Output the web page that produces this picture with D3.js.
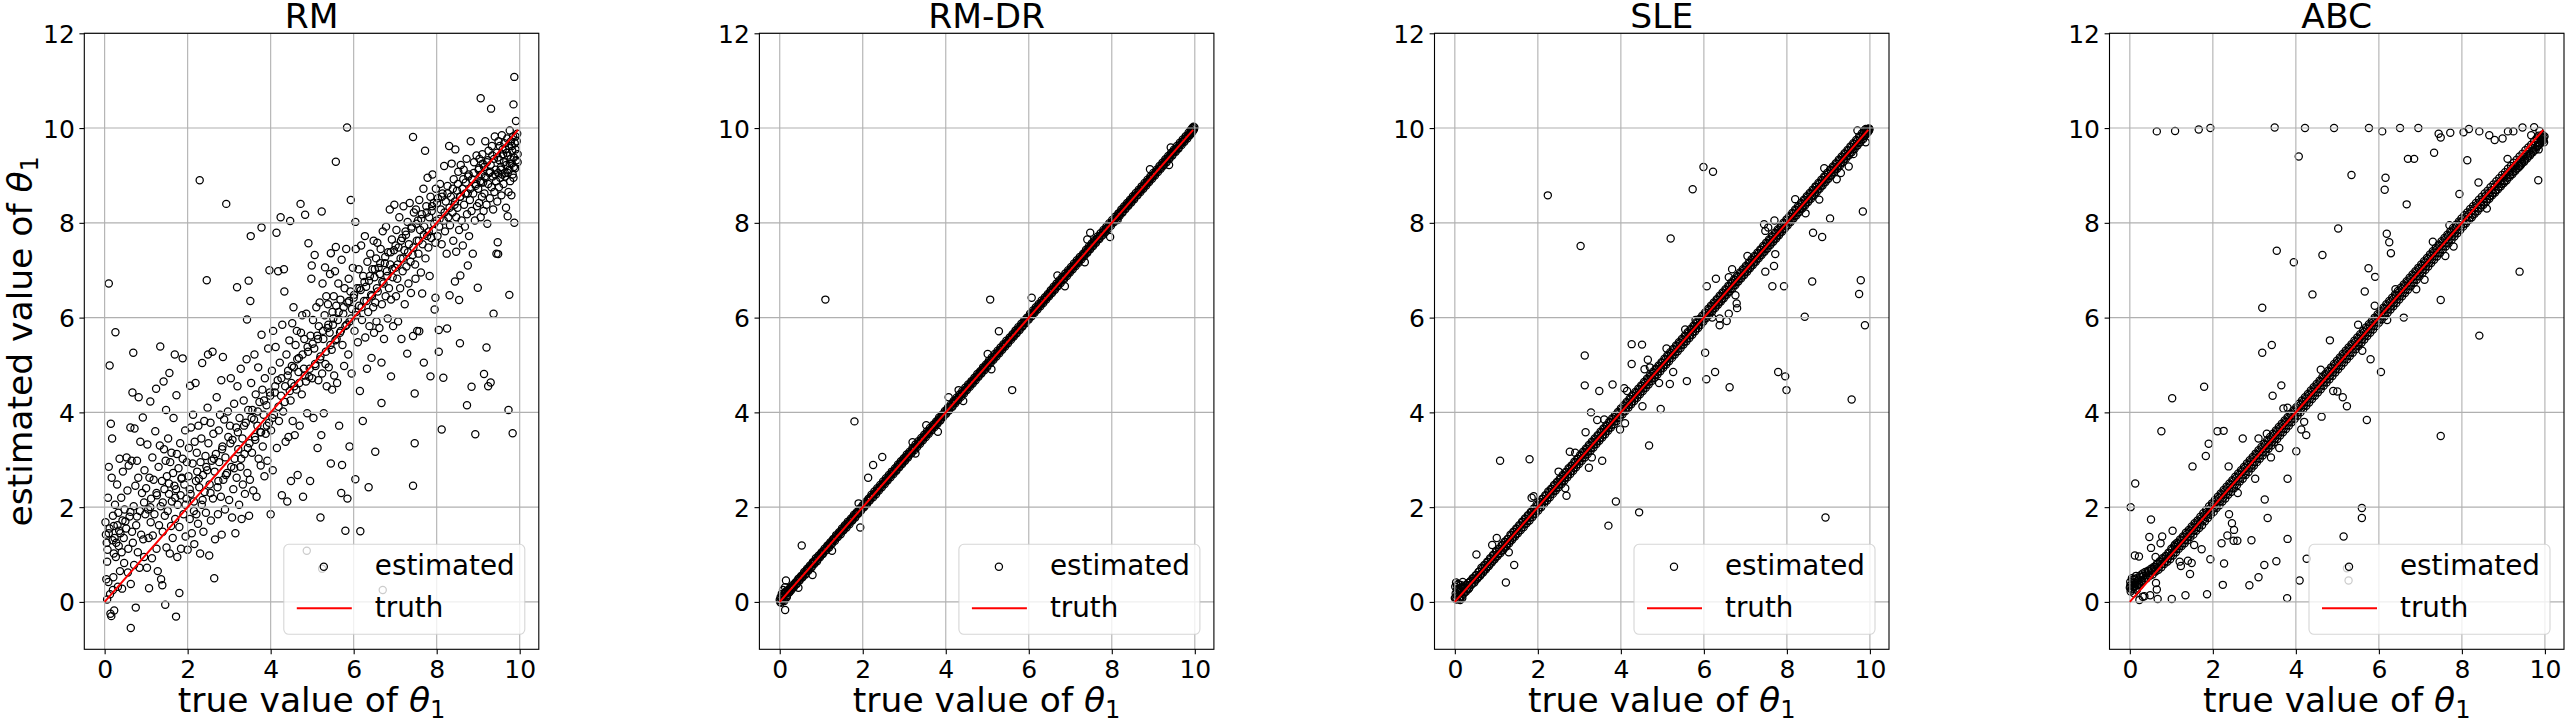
<!DOCTYPE html>
<html>
<head>
<meta charset="utf-8">
<script src="https://cdn.jsdelivr.net/npm/d3@7.9.0/dist/d3.min.js"></script>
<style>
  html, body { margin: 0; padding: 0; background: #fff; }
  svg { display: block; font-family: "DejaVu Sans", sans-serif; }
</style>
</head>
<body>
<div id="chart"></div>
<script>
const panelTitles = ['RM', 'RM-DR', 'SLE', 'ABC'];
const xTicks = [0, 2, 4, 6, 8, 10];
const yTicks = [0, 2, 4, 6, 8, 10, 12];
const legendLabels = ['estimated', 'truth'];
const truthLine = [0.0, 9.96];

// RM: [true, estimated]
const rmPoints = [
[0.02,1.68],[0.03,1.42],[0.05,1.25],[0.04,0.48],[0.06,0.85],[0.08,2.2],[0.1,2.85],[0.12,1.55],[0.07,1.1],[0.1,6.72],[0.12,4.99],[0.13,0.16],[0.14,-0.25],[0.15,3.76],[0.18,3.45],[0.17,2.62],[0.19,1.3],[0.2,1.82],[0.21,0.52],[0.22,1.02],[0.23,-0.18],[0.24,1.35],[0.25,2.05],[0.26,5.69],[0.27,0.95],[0.28,1.25],[0.3,2.48],[0.31,1.62],[0.32,0.32],[0.33,1.88],[0.34,1.18],[0.36,3.02],[0.37,0.65],[0.38,1.45],[0.4,2.2],[0.41,1.05],[0.42,0.28],[0.43,1.72],[0.44,2.75],[0.46,1.35],[0.47,0.82],[0.48,1.95],[0.06,0.05],[0.09,0.42],[0.16,-0.3],[0.2,0.25],
[0.52,1.55],[0.53,3.05],[0.55,2.35],[0.56,0.62],[0.57,1.12],[0.58,2.88],[0.6,1.8],[0.62,3.68],[0.63,-0.55],[0.63,0.38],[0.65,2.98],[0.66,1.48],[0.67,4.42],[0.68,1.25],[0.69,5.26],[0.7,2.02],[0.71,0.78],[0.72,3.66],[0.74,2.45],[0.75,-0.12],[0.76,1.62],[0.78,2.98],[0.8,1.05],[0.81,2.62],[0.82,4.32],[0.84,0.72],[0.85,1.92],[0.86,3.38],[0.88,1.42],[0.9,2.3],[0.92,3.89],[0.93,1.32],[0.95,0.95],[0.96,2.78],[0.98,1.85],
[1.0,2.4],[1.02,0.72],[1.03,3.32],[1.05,1.95],[1.06,1.35],[1.07,0.29],[1.08,2.62],[1.1,4.23],[1.11,1.68],[1.12,2.18],[1.14,0.92],[1.15,3.05],[1.16,1.4],[1.18,2.58],[1.2,1.85],[1.22,3.6],[1.24,4.5],[1.25,1.12],[1.26,2.25],[1.28,0.65],[1.3,2.85],[1.31,1.62],[1.33,3.3],[1.34,5.39],[1.35,2.02],[1.36,0.48],[1.38,2.55],[1.39,0.35],[1.4,1.48],[1.42,4.65],[1.43,3.22],[1.44,2.38],[1.45,1.82],[1.46,-0.06],[1.47,2.98],[1.48,4.05],[1.49,1.15],
[1.5,2.65],[1.52,1.92],[1.53,3.45],[1.55,2.28],[1.56,4.83],[1.57,1.02],[1.58,2.95],[1.6,1.6],[1.61,3.15],[1.62,2.12],[1.64,1.35],[1.65,2.72],[1.66,3.88],[1.68,2.45],[1.69,5.22],[1.7,1.75],[1.72,-0.31],[1.72,2.38],[1.73,4.36],[1.74,3.12],[1.75,0.95],[1.76,2.05],[1.78,2.82],[1.8,0.19],[1.8,1.58],[1.82,3.35],[1.83,2.25],[1.84,1.12],[1.86,2.62],[1.88,5.14],[1.88,3.02],[1.9,1.85],[1.92,2.48],[1.94,3.62],[1.95,1.38],[1.97,2.18],[1.98,2.95],
[2.0,1.1],[2.02,2.65],[2.03,3.25],[2.05,1.75],[2.06,4.56],[2.07,2.28],[2.08,3.68],[2.1,1.45],[2.12,2.92],[2.13,3.95],[2.15,2.12],[2.16,1.22],[2.17,3.38],[2.19,4.62],[2.2,2.55],[2.21,1.85],[2.22,3.15],[2.23,2.75],[2.25,1.65],[2.26,3.72],[2.28,2.42],[2.29,8.9],[2.3,1.02],[2.31,2.95],[2.33,3.45],[2.34,2.05],[2.35,5.04],[2.37,2.68],[2.38,1.48],[2.4,3.82],[2.41,2.32],[2.43,3.08],[2.44,1.88],[2.46,6.79],[2.47,2.78],[2.48,4.1],[2.49,5.22],
[2.5,3.35],[2.52,0.98],[2.53,2.48],[2.55,3.78],[2.56,1.72],[2.58,2.98],[2.6,5.28],[2.61,2.18],[2.62,3.55],[2.64,0.5],[2.65,2.75],[2.66,1.32],[2.68,3.12],[2.7,4.32],[2.72,2.42],[2.73,1.85],[2.75,3.62],[2.76,2.95],[2.78,3.95],[2.8,2.22],[2.81,4.68],[2.82,1.42],[2.84,3.28],[2.85,5.17],[2.86,2.58],[2.88,3.85],[2.9,1.95],[2.91,3.05],[2.93,8.4],[2.95,2.72],[2.97,4.02],[2.98,3.48],
[3.0,2.15],[3.02,3.72],[3.04,4.72],[3.05,2.85],[3.07,1.78],[3.08,3.42],[3.1,2.38],[3.12,4.18],[3.13,3.02],[3.15,1.45],[3.17,3.68],[3.18,2.62],[3.19,6.64],[3.2,4.55],[3.22,3.22],[3.24,2.05],[3.25,3.88],[3.27,2.85],[3.28,4.92],[3.3,1.75],[3.32,3.45],[3.33,2.48],[3.35,4.25],[3.37,3.12],[3.38,2.28],[3.4,3.78],[3.42,5.12],[3.43,5.96],[3.44,2.72],[3.46,4.05],[3.47,6.78],[3.48,1.82],[3.49,3.35],
[3.5,2.58],[3.51,6.35],[3.52,7.72],[3.53,4.62],[3.55,3.15],[3.56,4.05],[3.58,2.35],[3.6,3.85],[3.61,5.22],[3.63,3.42],[3.64,4.38],[3.66,2.22],[3.68,3.72],[3.7,4.95],[3.71,3.02],[3.73,4.22],[3.75,3.58],[3.76,2.88],[3.78,5.64],[3.78,7.9],[3.8,4.48],[3.81,3.28],[3.83,3.95],[3.85,2.65],[3.86,4.72],[3.88,3.55],[3.9,4.15],[3.92,2.98],[3.94,5.35],[3.96,3.78],[3.97,7.0],[3.98,4.42],
[4.0,1.85],[4.01,3.62],[4.03,4.88],[4.05,2.78],[4.06,5.72],[4.08,3.95],[4.1,4.42],[4.12,5.38],[4.14,7.79],[4.15,3.25],[4.17,4.68],[4.18,6.98],[4.2,3.82],[4.22,5.05],[4.24,8.12],[4.25,4.35],[4.27,2.25],[4.28,5.85],[4.3,4.02],[4.32,7.02],[4.33,6.55],[4.35,4.55],[4.36,3.38],[4.38,5.22],[4.4,2.12],[4.41,4.78],[4.43,3.48],[4.45,5.52],[4.47,8.04],[4.48,4.25],[4.49,2.55],
[4.5,4.62],[4.52,5.88],[4.53,3.82],[4.55,6.22],[4.56,4.95],[4.58,3.52],[4.6,5.42],[4.62,4.48],[4.63,5.72],[4.65,2.68],[4.67,4.85],[4.68,5.15],[4.7,3.72],[4.72,8.4],[4.73,5.68],[4.75,4.38],[4.76,6.05],[4.78,2.22],[4.8,4.92],[4.81,5.55],[4.83,8.17],[4.85,4.65],[4.86,6.08],[4.88,3.98],[4.9,5.28],[4.91,7.57],[4.93,4.75],[4.95,2.55],[4.96,5.62],[4.98,6.82],[4.99,7.1],
[5.0,4.72],[5.02,5.95],[5.03,3.88],[5.05,5.35],[5.06,7.32],[5.08,4.98],[5.1,6.22],[5.12,5.62],[5.13,3.25],[5.15,4.68],[5.16,5.82],[5.18,6.32],[5.2,1.78],[5.2,5.18],[5.22,3.52],[5.23,8.24],[5.24,4.82],[5.25,6.72],[5.27,5.55],[5.28,3.98],[5.3,6.05],[5.31,7.06],[5.32,5.02],[5.34,6.45],[5.35,4.55],[5.37,5.78],[5.38,6.28],[5.4,4.95],[5.42,5.68],[5.43,6.92],[5.45,2.92],[5.45,7.36],[5.47,5.32],[5.48,4.48],[5.49,6.12],
[5.5,5.85],[5.52,6.45],[5.53,4.78],[5.55,6.98],[5.56,5.52],[5.57,9.29],[5.57,7.49],[5.58,6.25],[5.6,4.62],[5.62,5.95],[5.63,6.72],[5.65,3.72],[5.67,5.68],[5.68,6.38],[5.7,2.3],[5.71,7.22],[5.72,2.89],[5.73,5.42],[5.75,6.08],[5.77,4.98],[5.78,6.62],[5.8,1.5],[5.8,5.82],[5.82,7.45],[5.84,10.01],[5.85,2.18],[5.85,6.32],[5.87,5.22],[5.88,6.82],[5.9,3.28],[5.9,5.92],[5.92,6.55],[5.93,8.48],[5.95,4.82],[5.96,6.18],[5.98,7.05],
[6.0,6.42],[6.02,5.72],[6.04,8.02],[6.04,2.59],[6.05,7.45],[6.07,6.05],[6.08,6.62],[6.1,5.48],[6.12,7.02],[6.13,6.25],[6.15,4.45],[6.16,1.49],[6.17,6.58],[6.18,7.52],[6.2,5.95],[6.22,3.82],[6.23,6.88],[6.25,6.35],[6.27,7.72],[6.28,5.58],[6.3,6.65],[6.32,4.92],[6.33,7.18],[6.35,6.12],[6.36,2.42],[6.37,6.78],[6.38,5.82],[6.4,7.35],[6.42,6.48],[6.43,5.15],[6.45,7.02],[6.47,6.22],[6.48,7.62],[6.49,5.68],
[6.5,6.85],[6.52,3.17],[6.52,6.32],[6.54,7.25],[6.55,5.92],[6.57,7.58],[6.58,6.55],[6.6,7.05],[6.62,5.78],[6.63,6.92],[6.65,7.45],[6.67,4.2],[6.67,5.05],[6.68,6.28],[6.7,7.82],[6.72,6.72],[6.73,5.55],[6.75,7.15],[6.77,6.45],[6.78,7.92],[6.8,6.98],[6.82,5.98],[6.83,7.38],[6.85,6.62],[6.87,8.28],[6.88,7.12],[6.9,4.76],[6.9,6.38],[6.92,7.65],[6.94,6.85],[6.95,5.82],[6.97,7.42],[6.98,8.38],
[7.0,7.05],[7.02,6.45],[7.03,7.85],[7.05,6.82],[7.07,5.92],[7.08,7.48],[7.1,8.12],[7.12,6.62],[7.13,7.25],[7.15,5.55],[7.17,7.68],[7.18,6.98],[7.2,8.35],[7.22,7.42],[7.23,6.28],[7.25,7.82],[7.27,7.08],[7.29,5.24],[7.3,8.02],[7.32,6.72],[7.33,7.55],[7.35,8.42],[7.37,7.18],[7.38,6.52],[7.4,7.92],[7.42,7.32],[7.43,9.81],[7.43,5.61],[7.43,2.45],[7.45,8.22],[7.47,3.35],[7.47,4.4],[7.48,7.12],[7.49,6.82],
[7.5,8.28],[7.52,7.62],[7.53,5.72],[7.55,8.05],[7.56,7.35],[7.58,5.71],[7.58,8.48],[7.6,7.85],[7.62,6.95],[7.64,8.18],[7.65,6.51],[7.66,7.55],[7.68,8.72],[7.69,5.05],[7.7,7.92],[7.72,9.52],[7.73,7.25],[7.75,8.35],[7.77,7.72],[7.78,8.95],[7.8,7.48],[7.82,8.12],[7.83,6.88],[7.85,4.76],[7.85,8.55],[7.87,7.68],[7.88,8.25],[7.9,9.02],[7.92,7.85],[7.93,8.42],[7.95,6.17],[7.97,6.42],[7.97,7.58],[7.98,8.72],
[8.0,8.05],[8.02,7.72],[8.03,8.52],[8.05,5.28],[8.05,5.74],[8.06,7.92],[8.08,8.82],[8.1,8.28],[8.12,3.64],[8.12,7.55],[8.14,8.62],[8.16,4.73],[8.17,8.05],[8.18,9.2],[8.2,7.82],[8.22,8.45],[8.24,7.35],[8.25,5.77],[8.26,8.78],[8.28,8.12],[8.3,9.62],[8.31,6.47],[8.32,7.95],[8.34,8.55],[8.36,9.25],[8.38,8.22],[8.4,7.62],[8.41,8.92],[8.43,8.38],[8.44,6.76],[8.45,9.55],[8.47,7.39],[8.47,8.12],[8.49,8.68],
[8.5,8.32],[8.52,9.08],[8.54,6.37],[8.54,7.85],[8.56,5.46],[8.56,8.55],[8.57,6.89],[8.58,9.22],[8.6,8.05],[8.62,8.72],[8.63,7.52],[8.65,9.12],[8.66,8.38],[8.68,7.92],[8.7,8.85],[8.72,9.35],[8.73,4.15],[8.73,8.18],[8.75,7.1],[8.75,8.62],[8.77,9.02],[8.78,7.72],[8.8,8.48],[8.82,9.72],[8.84,4.54],[8.84,8.25],[8.85,8.92],[8.87,7.35],[8.88,8.62],[8.9,9.28],[8.92,8.05],[8.93,3.54],[8.94,8.82],[8.96,9.42],[8.97,8.35],[8.99,6.63],
[9.0,8.72],[9.01,9.12],[9.02,8.42],[9.03,9.35],[9.05,8.88],[9.06,10.63],[9.06,8.12],[9.08,9.02],[9.09,8.55],[9.1,9.45],[9.12,8.85],[9.13,8.25],[9.14,4.81],[9.14,9.18],[9.15,8.62],[9.17,9.72],[9.18,8.95],[9.2,5.37],[9.2,8.38],[9.21,9.28],[9.22,7.98],[9.24,4.55],[9.24,8.82],[9.25,9.52],[9.27,9.05],[9.28,8.52],[9.3,4.63],[9.3,9.22],[9.31,10.41],[9.32,8.75],[9.33,9.62],[9.35,8.98],[9.36,8.28],[9.37,6.08],[9.38,9.35],[9.39,8.65],[9.4,9.82],[9.42,9.12],[9.43,8.88],[9.44,7.35],[9.45,9.48],[9.46,8.45],[9.47,7.59],[9.48,7.34],[9.48,9.05],[9.49,9.72],
[9.5,8.75],[9.51,9.32],[9.52,9.62],[9.53,8.95],[9.55,9.18],[9.56,8.58],[9.57,9.85],[9.58,9.02],[9.6,9.45],[9.61,8.82],[9.62,9.28],[9.63,9.68],[9.65,8.98],[9.66,9.55],[9.67,8.32],[9.68,9.22],[9.7,9.78],[9.71,8.14],[9.71,9.05],[9.72,9.42],[9.73,4.05],[9.73,8.65],[9.74,9.62],[9.75,6.48],[9.75,9.12],[9.76,9.95],[9.77,8.88],[9.78,9.35],[9.79,9.72],[9.8,8.58],[9.81,9.25],[9.82,9.52],[9.83,3.56],[9.83,9.02],[9.84,9.82],[9.85,10.5],[9.85,8.95],[9.86,9.38],[9.87,11.08],[9.87,8.0],[9.88,9.68],[9.89,9.15],[9.9,9.55],[9.91,10.15],[9.92,9.32],[9.93,9.72],[9.94,9.88],[9.95,9.45],
[4.87,1.08],[5.24,0.7],[6.7,0.25]
];
// RM: the denser core close to the truth
const rmCore = [
[0.1,1.45],[0.22,1.6],[0.35,1.5],[0.5,1.7],[0.62,1.9],[0.78,1.8],[0.95,2.1],[1.1,2.0],[1.25,2.3],[1.4,2.1],[1.55,2.5],[1.7,2.2],[1.85,2.6],[1.95,2.05],
[2.05,2.38],[2.15,1.92],[2.27,2.6],[2.36,2.15],[2.45,2.85],[2.55,2.3],[2.63,3.02],[2.74,2.55],[2.83,3.22],[2.92,2.68],[3.03,3.35],[3.12,2.82],[3.21,3.58],[3.29,3.02],[3.36,3.72],[3.45,3.25],[3.54,3.88],[3.62,3.48],[3.69,4.02],[3.77,3.58],[3.84,4.25],[3.91,3.72],[3.99,4.35],[4.04,3.88],[4.11,4.55],[4.19,4.12],[4.26,4.72],[4.34,4.22],[4.42,4.88],[4.46,4.45],[4.51,4.98],[4.57,4.55],[4.64,5.12],[4.69,4.62],[4.77,5.22],[4.82,4.78],[4.89,5.38],[4.94,4.92],[5.01,5.45],[5.07,5.02],[5.14,5.55],[5.19,5.12],[5.26,5.72],[5.33,5.28],[5.39,5.85],[5.44,5.42],[5.51,5.98],[5.59,5.55],[5.64,6.12],[5.69,5.72],[5.76,6.22],[5.83,5.85],[5.89,6.35],[5.94,5.98],[6.01,6.48],[6.06,6.12],[6.14,6.62],[6.19,6.22],[6.26,6.75],[6.31,6.35],[6.39,6.88],[6.44,6.45],[6.51,7.02],[6.56,6.62],[6.64,7.15],[6.69,6.75],[6.76,7.28],[6.81,6.88],[6.89,7.38],[6.93,7.02],[7.01,7.52],[7.06,7.12],[7.14,7.62],[7.19,7.25],[7.26,7.75],[7.31,7.38],[7.39,7.88],[7.44,7.48],[7.51,7.98],[7.57,7.62],[7.63,8.08],[7.69,7.75],[7.76,8.22],[7.81,7.82],[7.89,8.35],[7.94,7.98],[8.01,8.42],[8.07,8.08],[8.13,8.55],[8.19,8.22],[8.26,8.62],[8.31,8.32],[8.39,8.72],[8.44,8.45],[8.51,8.82],[8.57,8.55],[8.64,8.92],[8.69,8.62],[8.76,8.98],[8.81,8.72],[8.89,9.05],[8.94,8.78],[9.02,9.15],[9.07,8.85],[9.11,9.25],[9.16,8.98],[9.23,9.32],[9.29,9.08],[9.34,9.42],[9.41,9.02],[9.47,9.38],[9.54,9.12],[9.59,9.55],[9.64,9.05],[9.69,9.48],[9.76,9.25],[9.81,9.62],[9.86,9.18],[9.9,9.82],[9.95,9.28]
];

// RM-DR: points along the diagonal band, then the stray estimates
const rmdrBand = [
[0.0,0.04],[0.02,0.1],[0.03,-0.02],[0.05,0.17],[0.06,0.03],[0.08,0.25],[0.1,0.12],[0.11,0.02],[0.13,0.31],[0.15,0.19],[0.17,0.1],[0.19,0.24],[0.22,0.2],[0.25,0.3],[0.28,0.25],[0.31,0.35],[0.34,0.31],[0.38,0.41],[0.41,0.38],[0.45,0.49],
[0.48,0.45],[0.52,0.55],[0.55,0.52],[0.59,0.63],[0.62,0.58],[0.66,0.7],[0.69,0.66],[0.73,0.77],[0.77,0.73],[0.8,0.84],[0.83,0.8],[0.87,0.92],[0.9,0.86],[0.94,0.98],[0.97,0.94],
[1.01,1.05],[1.04,1.01],[1.08,1.12],[1.12,1.09],[1.15,1.19],[1.19,1.15],[1.22,1.26],[1.26,1.23],[1.29,1.33],[1.33,1.29],[1.36,1.41],[1.4,1.37],[1.43,1.47],[1.47,1.43],
[1.5,1.55],[1.54,1.51],[1.57,1.62],[1.61,1.57],[1.64,1.69],[1.68,1.64],[1.72,1.76],[1.75,1.72],[1.79,1.84],[1.82,1.78],[1.86,1.9],[1.89,1.86],[1.93,1.97],[1.96,1.93],
[2.0,2.04],[2.03,2.0],[2.07,2.11],[2.1,2.06],[2.14,2.18],[2.17,2.14],[2.21,2.26],[2.25,2.21],[2.28,2.33],[2.32,2.27],[2.35,2.4],[2.39,2.35],[2.42,2.47],[2.46,2.42],
[2.49,2.54],[2.53,2.49],[2.56,2.61],[2.6,2.56],[2.63,2.68],[2.67,2.63],[2.7,2.75],[2.74,2.7],[2.78,2.82],[2.81,2.77],[2.85,2.9],[2.88,2.84],[2.92,2.97],[2.95,2.91],[2.99,3.03],
[3.02,2.98],[3.06,3.11],[3.09,3.05],[3.13,3.17],[3.17,3.13],[3.2,3.25],[3.24,3.2],[3.27,3.32],[3.31,3.27],[3.34,3.39],[3.38,3.34],[3.41,3.46],[3.45,3.41],[3.48,3.53],
[3.52,3.48],[3.55,3.6],[3.59,3.55],[3.62,3.67],[3.66,3.62],[3.7,3.74],[3.73,3.69],[3.77,3.81],[3.8,3.76],[3.84,3.89],[3.87,3.83],[3.91,3.95],[3.94,3.9],[3.98,4.03],
[4.01,3.97],[4.05,4.1],[4.08,4.04],[4.12,4.16],[4.16,4.12],[4.19,4.24],[4.23,4.19],[4.26,4.31],[4.3,4.26],[4.33,4.38],[4.37,4.33],[4.4,4.45],[4.44,4.4],[4.47,4.52],
[4.51,4.47],[4.54,4.59],[4.58,4.54],[4.62,4.66],[4.65,4.61],[4.69,4.73],[4.72,4.68],[4.76,4.81],[4.79,4.75],[4.83,4.87],[4.86,4.82],[4.9,4.95],[4.93,4.89],[4.97,5.01],
[5.0,4.96],[5.04,5.09],[5.08,5.04],[5.11,5.16],[5.15,5.11],[5.18,5.23],[5.22,5.18],[5.25,5.3],[5.29,5.25],[5.32,5.37],[5.36,5.32],[5.39,5.44],[5.43,5.39],[5.46,5.51],
[5.5,5.46],[5.54,5.58],[5.57,5.53],[5.61,5.65],[5.64,5.6],[5.68,5.73],[5.71,5.67],[5.75,5.8],[5.78,5.74],[5.82,5.87],[5.85,5.81],[5.89,5.94],[5.92,5.88],[5.96,6.0],
[6.0,5.96],[6.03,6.08],[6.07,6.03],[6.1,6.15],[6.14,6.1],[6.17,6.22],[6.21,6.17],[6.24,6.29],[6.28,6.24],[6.31,6.36],[6.35,6.31],[6.39,6.43],[6.42,6.38],[6.46,6.5],
[6.49,6.45],[6.53,6.58],[6.56,6.52],[6.6,6.65],[6.63,6.59],[6.67,6.72],[6.7,6.66],[6.74,6.79],[6.77,6.73],[6.81,6.86],[6.85,6.81],[6.88,6.93],[6.92,6.88],[6.95,7.0],[6.99,6.95],
[7.02,7.07],[7.06,7.02],[7.09,7.14],[7.13,7.09],[7.16,7.21],[7.2,7.16],[7.23,7.28],[7.27,7.23],[7.31,7.35],[7.34,7.3],[7.38,7.43],[7.41,7.37],[7.45,7.5],[7.48,7.44],
[7.52,7.57],[7.55,7.51],[7.59,7.64],[7.62,7.58],[7.66,7.71],[7.7,7.66],[7.73,7.78],[7.77,7.73],[7.8,7.85],[7.84,7.8],[7.87,7.92],[7.91,7.87],[7.94,7.99],[7.98,7.94],
[8.01,8.06],[8.05,8.01],[8.08,8.13],[8.12,8.08],[8.16,8.2],[8.19,8.15],[8.23,8.28],[8.26,8.22],[8.3,8.35],[8.33,8.29],[8.37,8.42],[8.4,8.36],[8.44,8.49],[8.47,8.43],
[8.51,8.56],[8.54,8.5],[8.58,8.63],[8.62,8.58],[8.65,8.7],[8.69,8.65],[8.72,8.77],[8.76,8.72],[8.79,8.84],[8.83,8.79],[8.86,8.91],[8.9,8.86],[8.93,8.98],[8.97,8.93],
[9.0,9.05],[9.04,9.0],[9.08,9.12],[9.11,9.07],[9.15,9.2],[9.18,9.14],[9.22,9.27],[9.25,9.21],[9.29,9.34],[9.32,9.28],[9.36,9.41],[9.39,9.35],[9.43,9.48],[9.46,9.42],
[9.5,9.55],[9.54,9.5],[9.57,9.62],[9.61,9.57],[9.64,9.69],[9.68,9.64],[9.71,9.76],[9.75,9.71],[9.78,9.83],[9.82,9.78],[9.85,9.9],[9.88,9.85],[9.9,9.96],[9.92,9.89],[9.94,10.0],[9.95,9.93],[9.97,10.03],[9.98,9.97]
];
const rmdrBand2 = [
[0.01,0.0],[0.04,0.07],[0.07,0.12],[0.09,0.04],[0.12,0.19],[0.14,0.08],[0.16,0.23],[0.18,0.14],[0.21,0.23],[0.24,0.21],[0.27,0.29],[0.3,0.31],[0.33,0.32],[0.36,0.38],[0.4,0.39],[0.43,0.45],[0.47,0.46],[0.5,0.52],[0.54,0.53],[0.57,0.59],[0.61,0.6],[0.64,0.66],[0.68,0.67],[0.71,0.73],[0.75,0.74],[0.79,0.81],[0.82,0.81],[0.85,0.87],[0.89,0.88],[0.92,0.94],[0.96,0.96],[0.99,1.01],
[1.03,1.02],[1.06,1.08],[1.1,1.09],[1.14,1.16],[1.17,1.16],[1.21,1.23],[1.24,1.23],[1.28,1.3],[1.31,1.31],[1.35,1.37],[1.38,1.38],[1.42,1.44],[1.45,1.45],[1.49,1.51],[1.52,1.52],[1.56,1.58],[1.59,1.59],[1.63,1.65],[1.66,1.66],[1.7,1.72],[1.74,1.73],[1.77,1.79],[1.81,1.8],[1.84,1.86],[1.88,1.87],[1.91,1.93],[1.95,1.94],[1.98,2.0],
[2.02,2.01],[2.05,2.07],[2.09,2.08],[2.12,2.14],[2.16,2.15],[2.19,2.21],[2.23,2.23],[2.27,2.28],[2.3,2.3],[2.34,2.35],[2.37,2.37],[2.41,2.42],[2.44,2.44],[2.48,2.49],[2.51,2.51],[2.55,2.56],[2.58,2.58],[2.62,2.63],[2.65,2.65],[2.69,2.7],[2.72,2.72],[2.76,2.77],[2.8,2.79],[2.83,2.85],[2.87,2.86],[2.9,2.92],[2.94,2.93],[2.97,2.99],
[3.01,3.0],[3.04,3.06],[3.08,3.07],[3.11,3.13],[3.15,3.14],[3.19,3.2],[3.22,3.22],[3.26,3.27],[3.29,3.29],[3.33,3.34],[3.36,3.36],[3.4,3.41],[3.43,3.43],[3.47,3.48],[3.5,3.5],[3.54,3.55],[3.57,3.57],[3.61,3.62],[3.64,3.64],[3.68,3.69],[3.71,3.71],[3.75,3.76],[3.79,3.78],[3.82,3.84],[3.86,3.85],[3.89,3.91],[3.93,3.92],[3.96,3.98],
[4.0,3.99],[4.03,4.05],[4.07,4.06],[4.1,4.12],[4.14,4.13],[4.18,4.19],[4.21,4.21],[4.25,4.26],[4.28,4.28],[4.32,4.33],[4.35,4.35],[4.39,4.4],[4.42,4.42],[4.46,4.47],[4.49,4.49],[4.53,4.54],[4.56,4.56],[4.6,4.61],[4.63,4.63],[4.67,4.68],[4.7,4.7],[4.74,4.75],[4.78,4.77],[4.81,4.83],[4.85,4.84],[4.88,4.9],[4.92,4.91],[4.95,4.97],[4.99,4.98],
[5.02,5.04],[5.06,5.05],[5.1,5.11],[5.13,5.13],[5.17,5.18],[5.2,5.2],[5.24,5.25],[5.27,5.27],[5.31,5.32],[5.34,5.34],[5.38,5.39],[5.41,5.41],[5.45,5.46],[5.48,5.48],[5.52,5.53],[5.55,5.55],[5.59,5.6],[5.63,5.62],[5.66,5.68],[5.7,5.69],[5.73,5.75],[5.77,5.76],[5.8,5.82],[5.84,5.83],[5.87,5.89],[5.91,5.9],[5.94,5.96],[5.98,5.97],
[6.02,6.03],[6.05,6.05],[6.09,6.1],[6.12,6.12],[6.16,6.17],[6.19,6.19],[6.23,6.24],[6.26,6.26],[6.3,6.31],[6.33,6.33],[6.37,6.38],[6.4,6.4],[6.44,6.45],[6.48,6.47],[6.51,6.53],[6.55,6.54],[6.58,6.6],[6.62,6.61],[6.65,6.67],[6.69,6.68],[6.72,6.74],[6.76,6.75],[6.79,6.81],[6.83,6.82],[6.87,6.88],[6.9,6.9],[6.94,6.95],[6.97,6.97],
[7.01,7.02],[7.04,7.04],[7.08,7.09],[7.11,7.11],[7.15,7.16],[7.18,7.18],[7.22,7.23],[7.25,7.25],[7.29,7.3],[7.33,7.32],[7.36,7.38],[7.4,7.39],[7.43,7.45],[7.47,7.46],[7.5,7.52],[7.54,7.53],[7.57,7.59],[7.61,7.6],[7.64,7.66],[7.68,7.67],[7.71,7.73],[7.75,7.74],[7.79,7.8],[7.82,7.82],[7.86,7.87],[7.89,7.89],[7.93,7.94],[7.96,7.96],
[8.0,8.01],[8.03,8.03],[8.07,8.08],[8.1,8.1],[8.14,8.15],[8.18,8.17],[8.21,8.23],[8.25,8.24],[8.28,8.3],[8.32,8.31],[8.35,8.37],[8.39,8.38],[8.42,8.44],[8.46,8.45],[8.49,8.51],[8.53,8.52],[8.56,8.58],[8.6,8.59],[8.64,8.65],[8.67,8.67],[8.71,8.72],[8.74,8.74],[8.78,8.79],[8.81,8.81],[8.85,8.86],[8.88,8.88],[8.92,8.93],[8.95,8.95],[8.99,9.0],
[9.02,9.02],[9.06,9.07],[9.09,9.09],[9.13,9.14],[9.17,9.16],[9.2,9.22],[9.24,9.23],[9.27,9.29],[9.31,9.3],[9.34,9.36],[9.38,9.37],[9.41,9.43],[9.45,9.44],[9.48,9.5],[9.52,9.51],[9.55,9.57],[9.59,9.58],[9.63,9.64],[9.66,9.66],[9.7,9.71],[9.73,9.73],[9.77,9.78],[9.8,9.8],[9.84,9.85],[9.87,9.87],[9.91,9.92],[9.93,9.94],[9.96,9.99],[9.99,10.01]
];
const rmdrStray = [
[1.1,6.38],[5.07,6.38],[1.8,3.81],[5.6,4.47],[5.28,5.71],[5.01,5.23],[5.1,4.91],[0.53,1.19],[2.13,2.62],[2.25,2.89],[2.47,3.06],[1.94,1.57],[1.9,2.08],[0.13,-0.17],[0.15,0.45],[0.45,0.3],[0.79,0.57],[1.26,1.08],[3.27,3.13],[3.2,3.37],[3.53,3.73],[3.81,3.59],[4.07,4.32],[4.31,4.47],[4.42,4.24],[6.07,6.42],[6.69,6.89],[6.87,6.66],[7.35,7.17],[7.41,7.65],[7.48,7.79],[7.96,7.7],[8.14,8.06],[8.92,9.13],[9.38,9.22],[9.42,9.59]
];

// SLE
const sleBand = [
[0.0,0.08],[0.01,0.32],[0.02,0.18],[0.03,0.41],[0.04,0.05],[0.05,0.25],[0.07,0.12],[0.08,0.38],[0.1,0.06],[0.12,0.22],[0.13,0.04],[0.15,0.3],[0.17,0.12],[0.19,0.42],[0.21,0.17],[0.24,0.3],[0.27,0.22],[0.3,0.36],[0.33,0.27],[0.36,0.42],[0.4,0.36],[0.43,0.5],[0.47,0.41],[0.5,0.56],[0.54,0.49],[0.57,0.63],[0.61,0.55],[0.64,0.72],[0.68,0.62],[0.71,0.78],[0.75,0.69],[0.78,0.85],[0.82,0.76],[0.85,0.92],[0.89,0.83],[0.92,0.99],[0.96,0.9],[0.99,1.07],
[1.03,0.97],[1.06,1.12],[1.1,1.03],[1.13,1.2],[1.17,1.1],[1.2,1.27],[1.24,1.17],[1.27,1.33],[1.31,1.24],[1.34,1.42],[1.38,1.31],[1.41,1.48],[1.45,1.38],[1.48,1.55],[1.52,1.45],[1.55,1.62],[1.59,1.52],[1.62,1.69],[1.66,1.58],[1.69,1.76],[1.73,1.66],[1.76,1.83],[1.8,1.72],[1.83,1.9],[1.87,1.79],[1.9,1.97],[1.94,1.86],[1.97,2.05],
[2.01,1.93],[2.04,2.11],[2.08,2.0],[2.11,2.18],[2.15,2.07],[2.18,2.25],[2.22,2.14],[2.25,2.33],[2.29,2.21],[2.32,2.39],[2.36,2.28],[2.39,2.47],[2.43,2.35],[2.46,2.53],[2.5,2.42],[2.53,2.6],[2.57,2.49],[2.6,2.68],[2.64,2.56],[2.67,2.74],[2.71,2.63],[2.74,2.82],[2.78,2.7],[2.81,2.88],[2.85,2.77],[2.88,2.96],[2.92,2.84],[2.95,3.02],[2.99,2.91],
[3.02,3.1],[3.06,2.98],[3.09,3.17],[3.13,3.05],[3.16,3.24],[3.2,3.12],[3.23,3.31],[3.27,3.19],[3.3,3.38],[3.34,3.26],[3.37,3.45],[3.41,3.33],[3.44,3.52],[3.48,3.4],[3.51,3.59],[3.55,3.47],[3.58,3.66],[3.62,3.54],[3.65,3.73],[3.69,3.61],[3.72,3.8],[3.76,3.68],[3.79,3.87],[3.83,3.75],[3.86,3.94],[3.9,3.82],[3.93,4.01],[3.97,3.89],
[4.0,4.08],[4.04,3.96],[4.07,4.15],[4.11,4.03],[4.14,4.22],[4.18,4.1],[4.21,4.29],[4.25,4.17],[4.28,4.36],[4.32,4.24],[4.35,4.43],[4.39,4.31],[4.42,4.5],[4.46,4.38],[4.49,4.57],[4.53,4.45],[4.56,4.64],[4.6,4.52],[4.63,4.71],[4.67,4.59],[4.7,4.78],[4.74,4.66],[4.77,4.85],[4.81,4.73],[4.84,4.92],[4.88,4.8],[4.91,4.99],[4.95,4.87],[4.98,5.06],
[5.02,4.94],[5.05,5.13],[5.09,5.01],[5.12,5.2],[5.16,5.08],[5.19,5.27],[5.23,5.15],[5.26,5.34],[5.3,5.22],[5.33,5.41],[5.37,5.29],[5.4,5.48],[5.44,5.36],[5.47,5.55],[5.51,5.43],[5.54,5.62],[5.58,5.5],[5.61,5.69],[5.65,5.57],[5.68,5.76],[5.72,5.64],[5.75,5.83],[5.79,5.71],[5.82,5.9],[5.86,5.78],[5.89,5.97],[5.93,5.85],[5.96,6.04],[5.99,5.92],
[6.03,6.11],[6.06,5.99],[6.1,6.18],[6.13,6.06],[6.17,6.25],[6.2,6.13],[6.24,6.32],[6.27,6.2],[6.31,6.39],[6.34,6.27],[6.38,6.46],[6.41,6.34],[6.45,6.53],[6.48,6.41],[6.52,6.6],[6.55,6.48],[6.59,6.67],[6.62,6.55],[6.66,6.74],[6.69,6.62],[6.73,6.81],[6.76,6.69],[6.8,6.88],[6.83,6.76],[6.87,6.95],[6.9,6.83],[6.94,7.02],[6.97,6.9],
[7.01,7.09],[7.04,6.97],[7.08,7.16],[7.11,7.04],[7.15,7.23],[7.18,7.11],[7.22,7.3],[7.25,7.18],[7.29,7.37],[7.32,7.25],[7.36,7.44],[7.39,7.32],[7.43,7.51],[7.46,7.39],[7.5,7.58],[7.53,7.46],[7.57,7.65],[7.6,7.53],[7.64,7.72],[7.67,7.6],[7.71,7.79],[7.74,7.67],[7.78,7.86],[7.81,7.74],[7.85,7.93],[7.88,7.81],[7.92,8.0],[7.95,7.88],[7.99,8.07],
[8.02,7.95],[8.06,8.14],[8.09,8.02],[8.13,8.21],[8.16,8.09],[8.2,8.28],[8.23,8.16],[8.27,8.35],[8.3,8.23],[8.34,8.42],[8.37,8.3],[8.41,8.49],[8.44,8.37],[8.48,8.56],[8.51,8.44],[8.55,8.63],[8.58,8.51],[8.62,8.7],[8.65,8.58],[8.69,8.77],[8.72,8.65],[8.76,8.84],[8.79,8.72],[8.83,8.91],[8.86,8.79],[8.9,8.98],[8.93,8.86],[8.97,9.05],
[9.0,8.93],[9.04,9.12],[9.07,9.0],[9.11,9.19],[9.14,9.07],[9.18,9.26],[9.21,9.14],[9.25,9.33],[9.28,9.21],[9.32,9.4],[9.35,9.28],[9.39,9.47],[9.42,9.35],[9.46,9.54],[9.49,9.42],[9.53,9.61],[9.56,9.49],[9.6,9.68],[9.63,9.56],[9.67,9.75],[9.7,9.63],[9.74,9.82],[9.77,9.7],[9.81,9.89],[9.84,9.77],[9.86,9.95],[9.88,9.84],[9.9,9.98],[9.92,9.88],[9.94,9.96],[9.96,9.92],[9.98,9.99],
[0.9,1.2],[1.3,1.05],[1.85,2.2],[2.5,2.75],[2.9,3.15],[3.3,3.05],[3.6,3.85],[4.15,4.45],[4.7,4.95],[5.1,5.35],[5.55,5.75],[5.8,5.95],[6.2,6.0],[6.6,6.85],[7.05,7.3],[7.55,7.9],[7.7,8.05],[8.2,8.5],[8.45,8.2],[8.9,9.15],[9.3,9.05],[9.6,9.45],[9.7,9.95],[9.9,9.7]
];
const sleBand2 = [
[0.02,0.1],[0.05,0.35],[0.06,0.15],[0.09,0.28],[0.11,0.09],[0.14,0.36],[0.16,0.2],[0.18,0.08],[0.2,0.32],[0.23,0.2],[0.26,0.35],[0.29,0.26],[0.32,0.4],[0.35,0.3],[0.38,0.44],[0.42,0.39],[0.45,0.49],[0.49,0.45],[0.52,0.57],[0.56,0.52],[0.59,0.64],[0.63,0.59],[0.66,0.7],[0.7,0.66],[0.73,0.77],[0.77,0.73],[0.8,0.84],[0.84,0.8],[0.87,0.91],[0.91,0.87],[0.94,0.98],[0.98,0.94],
[1.01,1.06],[1.05,1.01],[1.08,1.12],[1.12,1.08],[1.15,1.19],[1.19,1.15],[1.22,1.26],[1.26,1.22],[1.29,1.33],[1.33,1.29],[1.36,1.4],[1.4,1.36],[1.43,1.47],[1.47,1.43],[1.5,1.54],[1.54,1.5],[1.57,1.61],[1.61,1.57],[1.64,1.68],[1.68,1.64],[1.71,1.75],[1.75,1.71],[1.78,1.82],[1.82,1.78],[1.85,1.89],[1.89,1.85],[1.92,1.96],[1.96,1.92],[1.99,2.03],
[2.03,1.99],[2.06,2.1],[2.1,2.06],[2.13,2.17],[2.17,2.13],[2.2,2.24],[2.24,2.2],[2.27,2.31],[2.31,2.27],[2.34,2.38],[2.38,2.34],[2.41,2.45],[2.45,2.41],[2.48,2.52],[2.52,2.48],[2.55,2.59],[2.59,2.55],[2.62,2.66],[2.66,2.62],[2.69,2.73],[2.73,2.69],[2.76,2.8],[2.8,2.76],[2.83,2.87],[2.87,2.83],[2.9,2.94],[2.94,2.9],[2.97,3.01],
[3.01,2.97],[3.04,3.08],[3.08,3.04],[3.11,3.15],[3.15,3.11],[3.18,3.22],[3.22,3.18],[3.25,3.29],[3.29,3.25],[3.32,3.36],[3.36,3.32],[3.39,3.43],[3.43,3.39],[3.46,3.5],[3.5,3.46],[3.53,3.57],[3.57,3.53],[3.6,3.64],[3.64,3.6],[3.67,3.71],[3.71,3.67],[3.74,3.78],[3.78,3.74],[3.81,3.85],[3.85,3.81],[3.88,3.92],[3.92,3.88],[3.95,3.99],[3.99,3.95],
[4.02,4.06],[4.06,4.02],[4.09,4.13],[4.13,4.09],[4.16,4.2],[4.2,4.16],[4.23,4.27],[4.27,4.23],[4.3,4.34],[4.34,4.3],[4.37,4.41],[4.41,4.37],[4.44,4.48],[4.48,4.44],[4.51,4.55],[4.55,4.51],[4.58,4.62],[4.62,4.58],[4.65,4.69],[4.69,4.65],[4.72,4.76],[4.76,4.72],[4.79,4.83],[4.83,4.79],[4.86,4.9],[4.9,4.86],[4.93,4.97],[4.97,4.93],
[5.0,5.04],[5.04,5.0],[5.07,5.11],[5.11,5.07],[5.14,5.18],[5.18,5.14],[5.21,5.25],[5.25,5.21],[5.28,5.32],[5.32,5.28],[5.35,5.39],[5.39,5.35],[5.42,5.46],[5.46,5.42],[5.49,5.53],[5.53,5.49],[5.56,5.6],[5.6,5.56],[5.63,5.67],[5.67,5.63],[5.7,5.74],[5.74,5.7],[5.77,5.81],[5.81,5.77],[5.84,5.88],[5.88,5.84],[5.91,5.95],[5.95,5.91],[5.98,6.02],
[6.02,5.98],[6.05,6.09],[6.09,6.05],[6.12,6.16],[6.16,6.12],[6.19,6.23],[6.23,6.19],[6.26,6.3],[6.3,6.26],[6.33,6.37],[6.37,6.33],[6.4,6.44],[6.44,6.4],[6.47,6.51],[6.51,6.47],[6.54,6.58],[6.58,6.54],[6.61,6.65],[6.65,6.61],[6.68,6.72],[6.72,6.68],[6.75,6.79],[6.79,6.75],[6.82,6.86],[6.86,6.82],[6.89,6.93],[6.93,6.89],[6.96,7.0],
[7.0,6.96],[7.03,7.07],[7.07,7.03],[7.1,7.14],[7.14,7.1],[7.17,7.21],[7.21,7.17],[7.24,7.28],[7.28,7.24],[7.31,7.35],[7.35,7.31],[7.38,7.42],[7.42,7.38],[7.45,7.49],[7.49,7.45],[7.52,7.56],[7.56,7.52],[7.59,7.63],[7.63,7.59],[7.66,7.7],[7.7,7.66],[7.73,7.77],[7.77,7.73],[7.8,7.84],[7.84,7.8],[7.87,7.91],[7.91,7.87],[7.94,7.98],[7.98,7.94],
[8.01,8.05],[8.05,8.01],[8.08,8.12],[8.12,8.08],[8.15,8.19],[8.19,8.15],[8.22,8.26],[8.26,8.22],[8.29,8.33],[8.33,8.29],[8.36,8.4],[8.4,8.36],[8.43,8.47],[8.47,8.43],[8.5,8.54],[8.54,8.5],[8.57,8.61],[8.61,8.57],[8.64,8.68],[8.68,8.64],[8.71,8.75],[8.75,8.71],[8.78,8.82],[8.82,8.78],[8.85,8.89],[8.89,8.85],[8.92,8.96],[8.96,8.92],[8.99,9.03],
[9.03,8.99],[9.06,9.1],[9.1,9.06],[9.13,9.17],[9.17,9.13],[9.2,9.24],[9.24,9.2],[9.27,9.31],[9.31,9.27],[9.34,9.38],[9.38,9.34],[9.41,9.45],[9.45,9.41],[9.48,9.52],[9.52,9.48],[9.55,9.59],[9.59,9.55],[9.62,9.66],[9.66,9.62],[9.69,9.73],[9.73,9.69],[9.76,9.8],[9.8,9.76],[9.83,9.87],[9.87,9.83],[9.9,9.94],[9.93,9.9],[9.95,9.98],[9.97,9.94],[9.99,9.97]
];
const sleStray = [
[2.24,8.58],[3.03,7.51],[5.99,9.18],[6.22,9.08],[5.73,8.71],[5.2,7.67],[9.83,8.24],[9.04,8.09],[8.63,7.79],[8.85,7.7],[7.72,7.34],[7.69,7.09],[7.48,6.97],[7.65,6.66],[7.93,6.66],[8.61,6.76],[9.78,6.79],[9.74,6.5],[8.43,6.02],[9.88,5.84],[9.56,4.27],[8.93,1.78],[7.79,4.85],[7.96,4.76],[7.99,4.47],[6.27,4.85],[6.06,4.7],[6.03,5.26],[6.62,4.53],[6.29,6.82],[6.07,6.66],[6.68,7.02],[6.76,6.47],[6.79,6.3],[6.8,6.2],[6.6,6.08],[6.38,5.98],[6.55,5.93],[6.38,5.84],[5.59,4.66],[5.18,4.6],[5.26,4.85],[4.92,4.62],[4.96,4.07],[4.52,4.13],[4.68,3.3],[4.44,1.89],[3.7,1.61],[3.88,2.12],[3.55,2.98],[3.23,2.83],[4.26,5.44],[4.51,5.43],[4.26,5.02],[4.65,5.11],[4.57,4.91],[4.08,4.51],[3.8,4.59],[3.48,4.45],[3.13,5.2],[3.13,4.57],[3.15,3.58],[3.28,4.0],[3.43,3.84],[3.98,3.64],[4.1,3.77],[1.09,2.98],[1.8,3.01],[2.77,3.17],[2.69,2.24],[2.66,2.4],[1.9,2.23],[1.01,1.35],[1.43,0.78],[1.23,0.41],[0.52,1.0],[7.45,7.97],[7.48,7.83],[8.78,8.49],[9.2,8.92],[9.49,9.19]
];

// ABC
const abcBand = [
[0.0,0.3],[0.01,0.42],[0.02,0.22],[0.03,0.36],[0.05,0.5],[0.06,0.28],[0.08,0.4],[0.1,0.18],[0.11,0.48],[0.13,0.33],[0.15,0.55],[0.17,0.25],[0.19,0.45],[0.22,0.38],[0.25,0.56],[0.28,0.42],[0.31,0.6],[0.34,0.47],[0.37,0.63],[0.41,0.5],[0.44,0.66],[0.48,0.55],[0.51,0.7],[0.55,0.58],[0.58,0.74],[0.62,0.64],[0.65,0.8],[0.69,0.68],[0.72,0.86],[0.76,0.73],[0.79,0.92],[0.83,0.8],[0.86,0.97],[0.9,0.85],[0.93,1.04],[0.97,0.9],
[1.0,1.12],[1.04,0.98],[1.07,1.18],[1.11,1.05],[1.14,1.25],[1.18,1.12],[1.21,1.32],[1.25,1.18],[1.28,1.38],[1.32,1.24],[1.35,1.46],[1.39,1.3],[1.42,1.52],[1.46,1.37],[1.49,1.59],[1.53,1.42],[1.56,1.66],[1.6,1.5],[1.63,1.72],[1.67,1.56],[1.7,1.8],[1.74,1.62],[1.77,1.87],[1.81,1.7],[1.84,1.94],[1.88,1.77],[1.91,2.02],[1.95,1.84],[1.98,2.08],
[2.02,1.9],[2.05,2.15],[2.09,1.98],[2.12,2.22],[2.16,2.04],[2.19,2.29],[2.23,2.12],[2.26,2.36],[2.3,2.18],[2.33,2.43],[2.37,2.26],[2.4,2.5],[2.44,2.32],[2.47,2.57],[2.51,2.4],[2.54,2.64],[2.58,2.46],[2.61,2.71],[2.65,2.54],[2.68,2.78],[2.72,2.6],[2.75,2.85],[2.79,2.68],[2.82,2.92],[2.86,2.74],[2.89,2.99],[2.93,2.82],[2.96,3.06],
[2.99,2.88],[3.03,3.13],[3.06,2.95],[3.1,3.2],[3.13,3.02],[3.17,3.27],[3.2,3.09],[3.24,3.34],[3.27,3.16],[3.31,3.41],[3.34,3.23],[3.38,3.48],[3.41,3.3],[3.45,3.55],[3.48,3.37],[3.52,3.62],[3.55,3.44],[3.59,3.69],[3.62,3.51],[3.66,3.76],[3.69,3.58],[3.73,3.83],[3.76,3.65],[3.8,3.9],[3.83,3.72],[3.87,3.97],[3.9,3.79],[3.94,4.04],[3.97,3.86],
[4.01,4.11],[4.04,3.93],[4.08,4.18],[4.11,4.0],[4.15,4.25],[4.18,4.07],[4.22,4.32],[4.25,4.14],[4.29,4.39],[4.32,4.21],[4.36,4.46],[4.39,4.28],[4.43,4.53],[4.46,4.35],[4.5,4.6],[4.53,4.42],[4.57,4.67],[4.6,4.49],[4.64,4.74],[4.67,4.56],[4.71,4.81],[4.74,4.63],[4.78,4.88],[4.81,4.7],[4.85,4.95],[4.88,4.77],[4.92,5.02],[4.95,4.84],[4.99,5.09],
[5.02,4.91],[5.06,5.16],[5.09,4.98],[5.13,5.23],[5.16,5.05],[5.2,5.3],[5.23,5.12],[5.27,5.37],[5.3,5.19],[5.34,5.44],[5.37,5.26],[5.41,5.51],[5.44,5.33],[5.48,5.58],[5.51,5.4],[5.55,5.65],[5.58,5.47],[5.62,5.72],[5.65,5.54],[5.69,5.79],[5.72,5.61],[5.76,5.86],[5.79,5.68],[5.83,5.93],[5.86,5.75],[5.9,6.0],[5.93,5.82],[5.97,6.07],
[6.0,5.89],[6.04,6.14],[6.07,5.96],[6.11,6.21],[6.14,6.03],[6.18,6.28],[6.21,6.1],[6.25,6.35],[6.28,6.17],[6.32,6.42],[6.35,6.24],[6.39,6.49],[6.42,6.31],[6.46,6.56],[6.49,6.38],[6.53,6.63],[6.56,6.45],[6.6,6.7],[6.63,6.52],[6.67,6.77],[6.7,6.59],[6.74,6.84],[6.77,6.66],[6.81,6.91],[6.84,6.73],[6.88,6.98],[6.91,6.8],[6.95,7.05],[6.98,6.87],
[7.02,7.12],[7.05,6.94],[7.09,7.19],[7.12,7.01],[7.16,7.26],[7.19,7.08],[7.23,7.33],[7.26,7.15],[7.3,7.4],[7.33,7.22],[7.37,7.47],[7.4,7.29],[7.44,7.54],[7.47,7.36],[7.51,7.61],[7.54,7.43],[7.58,7.68],[7.61,7.5],[7.65,7.75],[7.68,7.57],[7.72,7.82],[7.75,7.64],[7.79,7.89],[7.82,7.71],[7.86,7.96],[7.89,7.78],[7.93,8.03],[7.96,7.85],[7.99,8.09],
[8.03,7.92],[8.06,8.16],[8.1,7.99],[8.13,8.22],[8.17,8.06],[8.2,8.29],[8.24,8.12],[8.27,8.35],[8.31,8.19],[8.34,8.42],[8.38,8.25],[8.41,8.49],[8.45,8.32],[8.48,8.55],[8.52,8.38],[8.55,8.62],[8.59,8.45],[8.62,8.68],[8.66,8.51],[8.69,8.75],[8.73,8.58],[8.76,8.81],[8.8,8.64],[8.83,8.88],[8.87,8.71],[8.9,8.94],[8.94,8.77],[8.97,9.01],
[9.01,8.84],[9.04,9.07],[9.08,8.9],[9.11,9.14],[9.15,8.97],[9.18,9.2],[9.22,9.03],[9.25,9.27],[9.29,9.1],[9.32,9.33],[9.36,9.16],[9.39,9.4],[9.43,9.23],[9.46,9.46],[9.5,9.29],[9.53,9.53],[9.57,9.36],[9.6,9.59],[9.64,9.42],[9.67,9.65],[9.71,9.49],[9.74,9.72],[9.78,9.55],[9.8,9.78],[9.83,9.62],[9.85,9.84],[9.88,9.68],[9.9,9.82],[9.92,9.72],[9.94,9.86],[9.95,9.76],[9.97,9.8],[9.98,9.7],
[0.35,0.12],[0.62,0.95],[1.2,0.85],[1.55,1.2],[2.6,2.3],[3.1,3.45],[3.3,3.55],[3.4,3.05],[3.6,3.25],[3.7,4.08],[3.8,4.1],[4.2,3.8],[4.6,4.9],[4.9,4.45],[5.5,5.85],[5.6,5.3],[5.9,6.25],[6.2,5.95],[6.4,6.6],[6.6,6.0],[6.9,6.6],[7.1,6.8],[7.3,7.6],[7.6,7.3],[7.7,7.95],[7.8,7.5],[8.4,8.85],[8.6,8.3],[9.1,9.35],[9.4,9.2],[9.85,9.55]
];
const abcBand2 = [
[0.01,0.34],[0.04,0.26],[0.07,0.47],[0.09,0.32],[0.12,0.4],[0.14,0.28],[0.16,0.5],[0.18,0.36],[0.21,0.45],[0.24,0.35],[0.27,0.52],[0.3,0.44],[0.33,0.55],[0.36,0.5],[0.39,0.6],[0.43,0.56],[0.46,0.64],[0.5,0.6],[0.53,0.68],[0.57,0.65],[0.6,0.73],[0.64,0.7],[0.67,0.79],[0.71,0.75],[0.74,0.84],[0.78,0.8],[0.81,0.9],[0.85,0.86],[0.88,0.96],[0.92,0.92],[0.95,1.02],[0.99,0.98],
[1.02,1.1],[1.06,1.05],[1.09,1.16],[1.13,1.12],[1.16,1.22],[1.2,1.18],[1.23,1.29],[1.27,1.24],[1.3,1.36],[1.34,1.31],[1.37,1.43],[1.41,1.38],[1.44,1.49],[1.48,1.45],[1.51,1.56],[1.55,1.51],[1.58,1.63],[1.62,1.58],[1.65,1.69],[1.69,1.65],[1.72,1.76],[1.76,1.72],[1.79,1.83],[1.83,1.79],[1.86,1.9],[1.9,1.86],[1.93,1.97],[1.97,1.93],
[2.0,2.05],[2.04,1.99],[2.07,2.12],[2.11,2.06],[2.14,2.19],[2.18,2.13],[2.21,2.26],[2.25,2.2],[2.28,2.33],[2.32,2.27],[2.35,2.4],[2.39,2.34],[2.42,2.47],[2.46,2.41],[2.49,2.54],[2.53,2.48],[2.56,2.61],[2.6,2.55],[2.63,2.68],[2.67,2.62],[2.7,2.75],[2.74,2.69],[2.77,2.82],[2.81,2.76],[2.84,2.89],[2.88,2.83],[2.91,2.96],[2.95,2.9],[2.98,3.03],
[3.01,2.96],[3.05,3.1],[3.08,3.03],[3.12,3.17],[3.15,3.1],[3.19,3.24],[3.22,3.17],[3.26,3.31],[3.29,3.24],[3.33,3.38],[3.36,3.31],[3.4,3.45],[3.43,3.38],[3.47,3.52],[3.5,3.45],[3.54,3.59],[3.57,3.52],[3.61,3.66],[3.64,3.59],[3.68,3.73],[3.71,3.66],[3.75,3.8],[3.78,3.73],[3.82,3.87],[3.85,3.8],[3.89,3.94],[3.92,3.87],[3.96,4.01],[3.99,3.94],
[4.03,4.08],[4.06,4.01],[4.1,4.15],[4.13,4.08],[4.17,4.22],[4.2,4.15],[4.24,4.29],[4.27,4.22],[4.31,4.36],[4.34,4.29],[4.38,4.43],[4.41,4.36],[4.45,4.5],[4.48,4.43],[4.52,4.57],[4.55,4.5],[4.59,4.64],[4.62,4.57],[4.66,4.71],[4.69,4.64],[4.73,4.78],[4.76,4.71],[4.8,4.85],[4.83,4.78],[4.87,4.92],[4.9,4.85],[4.94,4.99],[4.97,4.92],
[5.01,5.06],[5.04,4.99],[5.08,5.13],[5.11,5.06],[5.15,5.2],[5.18,5.13],[5.22,5.27],[5.25,5.2],[5.29,5.34],[5.32,5.27],[5.36,5.41],[5.39,5.34],[5.43,5.48],[5.46,5.41],[5.5,5.55],[5.53,5.48],[5.57,5.62],[5.6,5.55],[5.64,5.69],[5.67,5.62],[5.71,5.76],[5.74,5.69],[5.78,5.83],[5.81,5.76],[5.85,5.9],[5.88,5.83],[5.92,5.97],[5.95,5.9],[5.99,6.04],
[6.02,5.97],[6.06,6.11],[6.09,6.04],[6.13,6.18],[6.16,6.11],[6.2,6.25],[6.23,6.18],[6.27,6.32],[6.3,6.25],[6.34,6.39],[6.37,6.32],[6.41,6.46],[6.44,6.39],[6.48,6.53],[6.51,6.46],[6.55,6.6],[6.58,6.53],[6.62,6.67],[6.65,6.6],[6.69,6.74],[6.72,6.67],[6.76,6.81],[6.79,6.74],[6.83,6.88],[6.86,6.81],[6.9,6.95],[6.93,6.88],[6.97,7.02],
[7.0,6.95],[7.04,7.09],[7.07,7.02],[7.11,7.16],[7.14,7.09],[7.18,7.23],[7.21,7.16],[7.25,7.3],[7.28,7.23],[7.32,7.37],[7.35,7.3],[7.39,7.44],[7.42,7.37],[7.46,7.51],[7.49,7.44],[7.53,7.58],[7.56,7.51],[7.6,7.65],[7.63,7.58],[7.67,7.72],[7.7,7.65],[7.74,7.79],[7.77,7.72],[7.81,7.86],[7.84,7.79],[7.88,7.93],[7.91,7.86],[7.95,8.0],[7.98,7.93],
[8.02,8.05],[8.05,7.98],[8.09,8.12],[8.12,8.04],[8.16,8.18],[8.19,8.11],[8.23,8.25],[8.26,8.17],[8.3,8.31],[8.33,8.24],[8.37,8.38],[8.4,8.3],[8.44,8.44],[8.47,8.37],[8.51,8.5],[8.54,8.43],[8.58,8.57],[8.61,8.5],[8.65,8.63],[8.68,8.56],[8.72,8.69],[8.75,8.63],[8.79,8.76],[8.82,8.69],[8.86,8.82],[8.89,8.76],[8.93,8.88],[8.96,8.82],
[9.0,8.95],[9.03,8.88],[9.07,9.01],[9.1,8.95],[9.14,9.07],[9.17,9.01],[9.21,9.14],[9.24,9.08],[9.28,9.2],[9.31,9.14],[9.35,9.26],[9.38,9.2],[9.42,9.33],[9.45,9.27],[9.49,9.39],[9.52,9.33],[9.56,9.45],[9.59,9.4],[9.63,9.52],[9.66,9.46],[9.7,9.58],[9.73,9.52],[9.77,9.64],[9.8,9.6],[9.83,9.7],[9.86,9.65],[9.89,9.76],[9.91,9.72],[9.93,9.79],[9.96,9.74],[9.99,9.82]
];
const abcStray = [
[0.65,9.93],[1.09,9.94],[1.66,9.97],[1.94,10.0],[3.49,10.01],[4.22,10.0],[4.92,10.0],[5.76,10.0],[6.08,9.93],[6.51,10.0],[6.95,10.0],[7.44,9.88],[7.49,9.8],[7.72,9.9],[8.04,9.91],[8.17,9.98],[8.42,9.93],[8.66,9.85],[8.79,9.75],[8.98,9.78],[9.11,9.93],[9.24,9.93],[9.46,10.01],[9.74,10.02],[9.87,9.94],[9.67,9.85],
[4.07,9.4],[5.34,9.01],[6.16,8.95],[6.14,8.7],[6.67,8.39],[6.7,9.35],[6.85,9.35],[7.33,9.48],[8.13,9.32],[7.94,8.61],[9.84,8.9],[5.02,7.88],[6.19,7.77],[6.25,7.59],[6.29,7.36],[3.54,7.41],[3.95,7.17],[4.64,7.32],[9.39,6.97],[5.75,7.04],[5.91,6.86],[4.4,6.49],[5.66,6.55],[3.19,6.21],[3.42,5.42],[3.19,5.26],[4.82,5.52],[8.42,5.62],[7.49,6.37],[5.8,5.12],[6.05,4.85],[3.65,4.57],[3.44,4.35],[1.79,4.54],[1.02,4.3],[5.0,4.44],[5.13,4.32],[5.23,4.13],[4.62,3.91],[5.71,3.84],[7.49,3.5],[4.13,3.64],[4.25,3.52],[4.01,3.18],
[0.76,3.6],[2.11,3.6],[2.26,3.61],[1.9,3.34],[1.83,3.08],[2.72,3.45],[1.51,2.86],[2.38,2.86],[0.13,2.5],[0.02,2.0],[3.8,2.6],[3.02,2.6],[0.51,1.74],[3.25,2.16],[3.32,1.77],[5.59,1.98],[5.59,1.77],[2.39,1.85],[2.46,1.66],[2.51,1.52],[2.5,1.29],[2.59,1.29],[2.35,1.4],[2.93,1.3],[3.8,1.33],[5.15,1.38],[2.21,1.24],[1.73,1.11],[1.94,0.9],[2.27,0.81],[1.49,0.82],[1.23,0.76],[0.51,1.14],[0.22,0.96],[0.12,0.98],[3.24,0.78],[3.53,0.86],[3.1,0.52],[2.88,0.35],[2.24,0.36],[4.26,0.91],[4.09,0.45],[5.23,0.71],[5.27,0.45],[3.79,0.08],[1.86,0.16],[1.34,0.14],[1.01,0.06],[0.67,0.06],[0.23,0.04],[0.31,0.11],[0.65,0.26],[0.63,0.4],[0.49,0.14],[0.47,1.37],[0.78,1.38],[0.74,1.24],[1.09,1.21],[1.03,1.5],[1.4,0.87],[1.45,0.59]
];

const panelData = [
  rmPoints.concat(rmCore),
  rmdrBand.concat(rmdrBand2, rmdrStray),
  sleBand.concat(sleBand2, sleStray),
  abcBand.concat(abcBand2, abcStray)
];

// layout (pixels)
const W = 2568, H = 724;
const panelLeft = [84.3, 759.4, 1434.5, 2109.5];
const panelW = 454.5, axTop = 33.3, axBottom = 649.3;
const panelH = axBottom - axTop;
const FONT = 'DejaVu Sans';
const labelSize = 34.5;

const svg = d3.select('#chart').append('svg')
  .attr('width', W).attr('height', H)
  .attr('viewBox', `0 0 ${W} ${H}`);
svg.append('rect').attr('width', W).attr('height', H).attr('fill', '#fff');

const x = d3.scaleLinear().domain([-0.49, 10.46]).range([0, panelW]);
const y = d3.scaleLinear().domain([-1, 12]).range([panelH, 0]);

function thetaLabel(sel, prefix) {
  sel.text(prefix);
  sel.append('tspan').attr('font-style', 'italic').text('θ');
  sel.append('tspan').attr('font-size', '0.7em').attr('dy', 6).text('1');
}

panelTitles.forEach((title, i) => {
  const g = svg.append('g').attr('transform', `translate(${panelLeft[i]},${axTop})`);

  g.append('clipPath').attr('id', `clip${i}`)
    .append('rect').attr('width', panelW).attr('height', panelH);

  // scatter of estimates
  g.append('g').attr('clip-path', `url(#clip${i})`)
    .selectAll('circle')
    .data(panelData[i])
    .join('circle')
    .attr('cx', d => x(d[0]))
    .attr('cy', d => y(d[1]))
    .attr('r', 3.6)
    .attr('fill', 'none')
    .attr('stroke', '#000')
    .attr('stroke-width', 1.25);

  // grid
  const grid = g.append('g').attr('stroke', '#b0b0b0').attr('stroke-width', 1.1);
  grid.selectAll('.gx').data(xTicks).join('line')
    .attr('x1', d => x(d)).attr('x2', d => x(d)).attr('y1', 0).attr('y2', panelH);
  grid.selectAll('.gy').data(yTicks).join('line')
    .attr('x1', 0).attr('x2', panelW).attr('y1', d => y(d)).attr('y2', d => y(d));

  // truth line
  g.append('path')
    .datum(truthLine.map(v => [v, v]))
    .attr('d', d3.line().x(d => x(d[0])).y(d => y(d[1])))
    .attr('stroke', '#ff0000').attr('stroke-width', 2).attr('fill', 'none');

  // axes
  g.append('g').attr('transform', `translate(0,${panelH})`)
    .call(d3.axisBottom(x).tickValues(xTicks).tickSize(4.9).tickPadding(6.2).tickFormat(d3.format('d')))
    .attr('font-size', 25).attr('font-family', FONT)
    .call(a => a.select('.domain').remove())
    .call(a => a.selectAll('line').attr('stroke', '#000').attr('stroke-width', 1.1))
    .call(a => a.selectAll('text').attr('fill', '#000'));

  g.append('g')
    .call(d3.axisLeft(y).tickValues(yTicks).tickSize(4.9).tickPadding(4.6).tickFormat(d3.format('d')))
    .attr('font-size', 25).attr('font-family', FONT)
    .call(a => a.select('.domain').remove())
    .call(a => a.selectAll('line').attr('stroke', '#000').attr('stroke-width', 1.1))
    .call(a => a.selectAll('text').attr('fill', '#000').attr('dy', '0.36em'));

  // spines
  g.append('rect').attr('width', panelW).attr('height', panelH)
    .attr('fill', 'none').attr('stroke', '#000').attr('stroke-width', 1.1);

  // title and labels
  g.append('text').attr('x', panelW / 2).attr('y', 28 - axTop)
    .attr('text-anchor', 'middle').attr('font-size', labelSize).attr('font-family', FONT)
    .text(title);

  g.append('text').attr('x', panelW / 2).attr('y', 712 - axTop)
    .attr('text-anchor', 'middle').attr('font-size', labelSize).attr('font-family', FONT)
    .call(thetaLabel, 'true value of ');

  if (i === 0) {
    g.append('text')
      .attr('transform', `translate(${31.5 - panelLeft[0]},${panelH / 2}) rotate(-90)`)
      .attr('text-anchor', 'middle').attr('font-size', labelSize).attr('font-family', FONT)
      .call(thetaLabel, 'estimated value of ');
  }

  // legend
  const lw = 241, lh = 90;
  const lg = g.append('g').attr('transform', `translate(${panelW - 14 - lw},${panelH - 15 - lh})`);
  lg.append('rect').attr('width', lw).attr('height', lh).attr('rx', 5)
    .attr('fill', '#fff').attr('fill-opacity', 0.8)
    .attr('stroke', '#cccccc').attr('stroke-opacity', 0.8).attr('stroke-width', 1.1);
  lg.append('circle').attr('cx', 40).attr('cy', 22.5).attr('r', 3.6)
    .attr('fill', 'none').attr('stroke', '#000').attr('stroke-width', 1.25);
  lg.append('line').attr('x1', 13).attr('x2', 68).attr('y1', 64).attr('y2', 64)
    .attr('stroke', '#ff0000').attr('stroke-width', 2);
  lg.selectAll('.lt').data(legendLabels).join('text')
    .attr('x', 91).attr('y', (d, k) => 31 + k * 42)
    .attr('font-size', 27.8).attr('font-family', FONT)
    .text(d => d);
});
</script>
</body>
</html>
